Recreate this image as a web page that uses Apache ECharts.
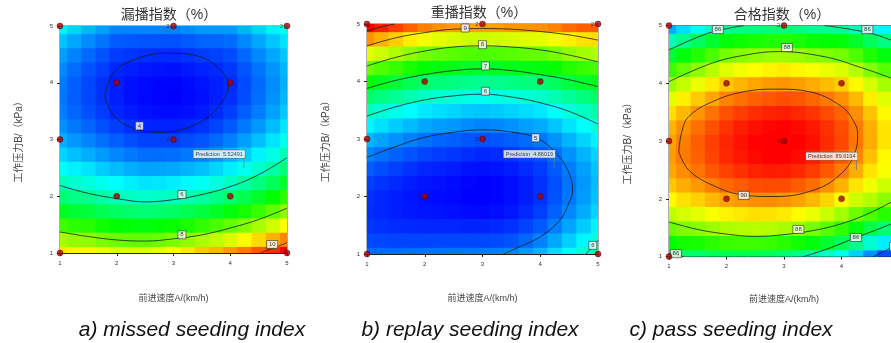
<!DOCTYPE html>
<html>
<head>
<meta charset="utf-8">
<script src="https://cdn.jsdelivr.net/npm/echarts@6/dist/echarts.min.js"></script>
<style>
html, body { margin: 0; padding: 0; background: #fff; }
#chartArea { width: 891px; height: 343px; }
</style>
</head>
<body>
<div id="chartArea"></div>
<script>
// sample positions of the response surface, A (x) and B (y)
var gridX = [1, 1.25, 1.5, 1.75, 2, 2.25, 2.5, 2.75, 3, 3.25, 3.5, 3.75, 4, 4.25, 4.5, 4.75, 5];
var gridY = [1, 1.25, 1.5, 1.75, 2, 2.25, 2.5, 2.75, 3, 3.25, 3.5, 3.75, 4, 4.25, 4.5, 4.75, 5];

// one array per column of A, values from B=1 (bottom) up to B=5 (top)
var missedByColumn = [
    [9.05, 8.27, 7.57, 6.94, 6.38, 5.89, 5.48, 5.14, 4.87, 4.68, 4.55, 4.50, 4.52, 4.62, 4.78, 5.02, 5.34],
    [8.94, 8.16, 7.45, 6.82, 6.25, 5.76, 5.34, 4.99, 4.72, 4.52, 4.39, 4.33, 4.35, 4.44, 4.60, 4.83, 5.14],
    [8.92, 8.12, 7.40, 6.75, 6.17, 5.67, 5.24, 4.88, 4.59, 4.38, 4.24, 4.18, 4.18, 4.26, 4.42, 4.64, 4.94],
    [8.76, 7.97, 7.25, 6.60, 6.03, 5.52, 5.09, 4.74, 4.45, 4.24, 4.10, 4.03, 4.03, 4.11, 4.26, 4.48, 4.77],
    [8.65, 7.86, 7.14, 6.49, 5.91, 5.41, 4.98, 4.61, 4.33, 4.11, 3.96, 3.89, 3.89, 3.96, 4.10, 4.32, 4.60],
    [8.63, 7.82, 7.09, 6.42, 5.84, 5.32, 4.88, 4.52, 4.23, 4.01, 3.87, 3.81, 3.81, 3.90, 4.05, 4.28, 4.59],
    [8.62, 7.80, 7.05, 6.37, 5.77, 5.25, 4.81, 4.44, 4.15, 3.94, 3.80, 3.74, 3.76, 3.85, 4.02, 4.27, 4.60],
    [8.72, 7.87, 7.10, 6.41, 5.80, 5.26, 4.81, 4.43, 4.13, 3.92, 3.77, 3.71, 3.73, 3.83, 4.00, 4.26, 4.59],
    [8.87, 7.99, 7.20, 6.49, 5.86, 5.31, 4.84, 4.45, 4.14, 3.92, 3.77, 3.70, 3.72, 3.81, 3.99, 4.25, 4.58],
    [9.03, 8.13, 7.32, 6.60, 5.95, 5.39, 4.91, 4.51, 4.20, 3.96, 3.81, 3.74, 3.76, 3.86, 4.04, 4.30, 4.64],
    [9.23, 8.31, 7.48, 6.73, 6.07, 5.49, 5.00, 4.59, 4.27, 4.03, 3.87, 3.80, 3.82, 3.92, 4.10, 4.37, 4.73],
    [9.36, 8.46, 7.63, 6.88, 6.22, 5.64, 5.15, 4.73, 4.40, 4.15, 3.99, 3.90, 3.90, 3.98, 4.14, 4.39, 4.72],
    [9.54, 8.63, 7.81, 7.07, 6.40, 5.82, 5.32, 4.90, 4.56, 4.30, 4.12, 4.02, 4.00, 4.07, 4.21, 4.43, 4.74],
    [9.77, 8.86, 8.03, 7.29, 6.62, 6.04, 5.54, 5.11, 4.77, 4.51, 4.33, 4.22, 4.20, 4.26, 4.40, 4.62, 4.92],
    [10.02, 9.11, 8.28, 7.53, 6.87, 6.28, 5.77, 5.35, 5.00, 4.74, 4.55, 4.45, 4.42, 4.48, 4.62, 4.83, 5.13],
    [10.30, 9.39, 8.56, 7.80, 7.13, 6.54, 6.03, 5.60, 5.25, 4.98, 4.79, 4.68, 4.65, 4.70, 4.83, 5.04, 5.33],
    [10.62, 9.71, 8.87, 8.12, 7.44, 6.84, 6.32, 5.89, 5.53, 5.25, 5.05, 4.93, 4.89, 4.93, 5.05, 5.25, 5.53]
];
var replayByColumn = [
    [4.93, 4.74, 4.62, 4.57, 4.59, 4.68, 4.84, 5.08, 5.38, 5.75, 6.19, 6.70, 7.28, 7.93, 8.65, 9.44, 10.30],
    [4.92, 4.71, 4.58, 4.52, 4.52, 4.60, 4.75, 4.97, 5.26, 5.62, 6.05, 6.55, 7.12, 7.76, 8.48, 9.26, 10.12],
    [4.92, 4.70, 4.55, 4.47, 4.47, 4.53, 4.67, 4.87, 5.15, 5.50, 5.92, 6.41, 6.97, 7.61, 8.31, 9.09, 9.94],
    [4.94, 4.70, 4.54, 4.44, 4.42, 4.47, 4.59, 4.79, 5.05, 5.39, 5.79, 6.27, 6.82, 7.45, 8.14, 8.90, 9.74],
    [4.96, 4.70, 4.52, 4.42, 4.38, 4.42, 4.52, 4.70, 4.96, 5.28, 5.67, 6.14, 6.68, 7.29, 7.97, 8.73, 9.56],
    [4.97, 4.71, 4.52, 4.41, 4.36, 4.39, 4.49, 4.66, 4.90, 5.22, 5.61, 6.07, 6.60, 7.21, 7.89, 8.64, 9.46],
    [4.98, 4.71, 4.52, 4.39, 4.34, 4.36, 4.46, 4.62, 4.86, 5.18, 5.56, 6.02, 6.55, 7.15, 7.82, 8.57, 9.39],
    [4.99, 4.71, 4.50, 4.36, 4.30, 4.32, 4.40, 4.57, 4.80, 5.11, 5.49, 5.95, 6.48, 7.08, 7.76, 8.51, 9.33],
    [5.01, 4.71, 4.50, 4.35, 4.29, 4.29, 4.38, 4.53, 4.77, 5.07, 5.46, 5.91, 6.45, 7.05, 7.74, 8.49, 9.33],
    [5.04, 4.74, 4.53, 4.38, 4.32, 4.32, 4.41, 4.56, 4.80, 5.10, 5.49, 5.94, 6.48, 7.08, 7.77, 8.52, 9.36],
    [5.09, 4.79, 4.58, 4.43, 4.37, 4.37, 4.46, 4.61, 4.85, 5.15, 5.54, 5.99, 6.53, 7.13, 7.82, 8.57, 9.41],
    [5.21, 4.91, 4.69, 4.54, 4.47, 4.47, 4.55, 4.70, 4.93, 5.23, 5.60, 6.05, 6.58, 7.18, 7.86, 8.61, 9.44],
    [5.36, 5.06, 4.82, 4.67, 4.58, 4.58, 4.64, 4.79, 5.00, 5.30, 5.66, 6.11, 6.62, 7.22, 7.88, 8.63, 9.44],
    [5.60, 5.28, 5.04, 4.87, 4.78, 4.76, 4.82, 4.96, 5.16, 5.45, 5.81, 6.24, 6.75, 7.33, 7.99, 8.72, 9.53],
    [5.84, 5.52, 5.27, 5.10, 5.00, 4.98, 5.03, 5.16, 5.36, 5.64, 5.99, 6.42, 6.92, 7.50, 8.15, 8.88, 9.68],
    [6.07, 5.75, 5.50, 5.32, 5.22, 5.19, 5.24, 5.36, 5.55, 5.82, 6.16, 6.57, 7.06, 7.62, 8.26, 8.97, 9.75],
    [6.31, 5.99, 5.73, 5.55, 5.45, 5.41, 5.45, 5.55, 5.73, 5.99, 6.31, 6.70, 7.17, 7.71, 8.32, 9.00, 9.76]
];
var passByColumn = [
    [86.02, 86.99, 87.81, 88.49, 89.03, 89.43, 89.68, 89.78, 89.75, 89.57, 89.26, 88.80, 88.20, 87.45, 86.57, 85.54, 84.36],
    [86.14, 87.13, 87.97, 88.66, 89.23, 89.64, 89.91, 90.04, 90.02, 89.86, 89.56, 89.12, 88.53, 87.80, 86.92, 85.91, 84.74],
    [86.16, 87.18, 88.05, 88.78, 89.36, 89.80, 90.09, 90.25, 90.26, 90.12, 89.84, 89.41, 88.85, 88.13, 87.27, 86.27, 85.12],
    [86.30, 87.33, 88.21, 88.96, 89.55, 90.01, 90.32, 90.47, 90.50, 90.37, 90.11, 89.70, 89.15, 88.44, 87.60, 86.62, 85.49],
    [86.39, 87.44, 88.34, 89.09, 89.71, 90.17, 90.50, 90.69, 90.71, 90.61, 90.37, 89.97, 89.43, 88.75, 87.93, 86.95, 85.84],
    [86.40, 87.47, 88.39, 89.17, 89.80, 90.29, 90.63, 90.82, 90.87, 90.77, 90.52, 90.12, 89.59, 88.89, 88.06, 87.08, 85.95],
    [86.40, 87.49, 88.43, 89.24, 89.89, 90.39, 90.73, 90.94, 90.99, 90.88, 90.64, 90.24, 89.69, 89.00, 88.16, 87.16, 86.01],
    [86.29, 87.42, 88.40, 89.23, 89.90, 90.42, 90.79, 91.00, 91.07, 90.97, 90.74, 90.34, 89.79, 89.09, 88.24, 87.23, 86.08],
    [86.12, 87.30, 88.30, 89.16, 89.85, 90.40, 90.78, 91.02, 91.09, 91.01, 90.77, 90.39, 89.83, 89.14, 88.27, 87.26, 86.09],
    [85.93, 87.13, 88.15, 89.02, 89.73, 90.29, 90.68, 90.93, 91.00, 90.94, 90.70, 90.32, 89.76, 89.06, 88.19, 87.18, 86.00],
    [85.68, 86.90, 87.94, 88.84, 89.56, 90.14, 90.54, 90.80, 90.88, 90.82, 90.59, 90.21, 89.65, 88.95, 88.08, 87.06, 85.86],
    [85.43, 86.63, 87.68, 88.58, 89.31, 89.89, 90.30, 90.57, 90.67, 90.62, 90.41, 90.05, 89.52, 88.84, 88.00, 87.00, 85.84],
    [85.10, 86.31, 87.37, 88.26, 89.02, 89.60, 90.04, 90.31, 90.44, 90.40, 90.22, 89.87, 89.38, 88.71, 87.91, 86.94, 85.82],
    [84.63, 85.86, 86.93, 87.84, 88.60, 89.20, 89.64, 89.93, 90.07, 90.04, 89.86, 89.54, 89.05, 88.41, 87.61, 86.66, 85.55],
    [84.14, 85.37, 86.45, 87.60, 88.40, 88.90, 89.20, 89.49, 89.64, 89.62, 89.46, 89.13, 88.66, 88.02, 87.23, 86.29, 85.19],
    [83.63, 84.86, 86.10, 87.30, 88.10, 88.60, 88.95, 89.04, 89.20, 89.20, 89.05, 88.75, 88.29, 87.68, 86.91, 85.99, 84.92],
    [83.07, 84.30, 85.60, 86.90, 87.80, 88.30, 88.60, 88.80, 88.74, 88.76, 88.64, 88.37, 87.94, 87.36, 86.63, 85.75, 84.71]
];

// contour lines
var missed4 = [[1.79,3.76],[1.94,4.17],[2.29,4.40],[2.88,4.52],[3.47,4.46],[3.85,4.20],[3.97,3.93],[3.88,3.70],[3.59,3.38],[3.12,3.17],[2.71,3.13],[2.29,3.20],[1.94,3.43],[1.79,3.76]];
var missed6 = [[1,2.19],[1.5,2.05],[2,1.96],[2.5,1.90],[3,1.94],[3.5,2.03],[4,2.17],[4.5,2.38],[5,2.68]];
var missed8 = [[1,1.37],[1.5,1.29],[2,1.23],[2.5,1.21],[3,1.25],[3.5,1.32],[4,1.44],[4.5,1.59],[5,1.79]];
var missed10 = [[4.53,1.0],[5,1.18]];
var missedLabels = [[2.4,3.24,'4'],[3.15,2.03,'6'],[3.15,1.32,'8'],[4.74,1.15,'10']];

var replay10 = [[1,4.88],[1.25,4.95],[1.48,5.0]];
var replay9 = [[1,4.62],[1.5,4.76],[2,4.85],[2.5,4.91],[3,4.92],[3.5,4.91],[4,4.87],[4.5,4.81],[5,4.72]];
var replay8 = [[1,4.27],[1.5,4.42],[2,4.53],[2.5,4.60],[3,4.62],[3.5,4.60],[4,4.55],[4.5,4.46],[5,4.34]];
var replay7 = [[1,3.88],[1.5,4.02],[2,4.12],[2.5,4.19],[3,4.22],[3.5,4.19],[4,4.12],[4.5,4.03],[5,3.91]];
var replay6 = [[1,3.40],[1.5,3.56],[2,3.68],[2.5,3.75],[3,3.78],[3.5,3.73],[4,3.63],[4.5,3.48],[5,3.26]];
var replay6b = [[4.79,1.0],[5,1.24]];
var replay5 = [[1,2.68],[1.5,2.87],[2,3.03],[2.6,3.13],[3,3.16],[3.5,3.12],[3.93,3.02],[4.28,2.75],[4.5,2.4],[4.56,2.1],[4.5,1.9],[4.34,1.59],[4.0,1.30],[3.65,1.13],[3.36,1.0]];
var replayLabels = [[2.7,4.93,'9'],[3.0,4.64,'8'],[3.05,4.27,'7'],[3.05,3.83,'6'],[3.92,3.02,'5'],[4.91,1.15,'6']];

var pass90 = [[1.17,2.82],[1.22,3.15],[1.34,3.42],[1.75,3.68],[2.33,3.86],[2.9,3.90],[3.42,3.86],[4.0,3.6],[4.23,3.31],[4.28,3.11],[4.23,2.79],[4.0,2.44],[3.54,2.16],[2.84,2.04],[2.27,2.07],[1.75,2.24],[1.34,2.5],[1.17,2.82]];
var pass88a = [[1,4.03],[1.75,4.35],[2.33,4.49],[2.9,4.55],[3.71,4.46],[4.29,4.29],[4.86,4.09],[5,4.02]];
var pass88b = [[1,1.60],[1.5,1.47],[2,1.39],[2.5,1.35],[3,1.38],[3.5,1.45],[4,1.57],[4.5,1.76],[5,2.02]];
var pass86a = [[1,4.58],[1.5,4.80],[1.83,4.91],[2.3,5.0]];
var pass86b = [[3.71,5.0],[4.45,4.88],[4.86,4.75],[5,4.68]];
var pass86c = [[3.34,1.0],[3.8,1.15],[4.25,1.33],[4.6,1.46],[5,1.62]];
var pass86d = [[1,1.06],[1.25,1.0]];
var pass84 = [[4.55,1.0],[4.8,1.12],[5,1.25]];
var passLabels = [[1.85,4.93,'86'],[3.05,4.62,'88'],[4.45,4.93,'86'],[2.3,2.06,'90'],[3.25,1.47,'88'],[4.25,1.33,'86'],[4.93,1.18,'84'],[1.12,1.05,'86']];

// design points and replicated points
var designPoints = [[1,1],[1,3],[1,5],[2,2],[2,4],[3,3],[3,5],[4,2],[4,4],[5,1],[5,5]];
var replicatePoints = [[3,3],[3,5],[5,5]];

var predictionPoints = [[4.24,2.5],[4.24,2.5],[4.26,2.5]];
var predictionStems = [[[4.24,2.5],[4.24,2.69]], [[4.24,2.5],[4.24,2.69]], [[4.26,2.5],[4.26,2.69]]];
var predictionTexts = ['Prediction  5.52491', 'Prediction  4.86019', 'Prediction  89.6194'];

var titles = ['漏播指数（%）', '重播指数（%）', '合格指数（%）'];
var captions = ['a) missed seeding index', 'b) replay seeding index', 'c) pass seeding index'];
var xName = '前进速度A/(km/h)';
var yName = '工作压力B/（kPa）';

var jet = ['#0000ff', '#00ffff', '#00ff00', '#ffff00', '#ff0000'];
var fontFamily = '"Liberation Sans", "Noto Sans CJK SC", sans-serif';

var panels = [
    { values: missedByColumn, range: [3.7, 10.6], contours: [missed4, missed6, missed8, missed10], labels: missedLabels,
      box: [60, 26, 227, 227], xGap: 41, titleX: 169, titleY: 15, captionX: 192 },
    { values: replayByColumn, range: [4.3, 10.3], contours: [replay10, replay9, replay8, replay7, replay6, replay6b, replay5], labels: replayLabels,
      box: [367, 24, 231, 230], xGap: 40, titleX: 479, titleY: 13, captionX: 470 },
    { values: passByColumn, range: [83, 91], contours: [pass90, pass88a, pass88b, pass86a, pass86b, pass86c, pass86d, pass84], labels: passLabels,
      box: [669, 25.6, 230, 231], xGap: 38, titleX: 782, titleY: 15, captionX: 731 }
];

function heatData(columns) {
    var out = [];
    columns.forEach(function(col, i) {
        col.forEach(function(v, j) {
            out.push([gridX[i], gridY[j], v]);
        });
    });
    return out;
}

function renderCell(params, api) {
    var x = api.value(0), y = api.value(1);
    var p0 = api.coord([x - 0.125, y + 0.125]);
    var p1 = api.coord([x + 0.125, y - 0.125]);
    var rect = echarts.graphic.clipRectByRect({
        x: p0[0], y: p0[1], width: p1[0] - p0[0] + 1, height: p1[1] - p0[1] + 1
    }, params.coordSys);
    return rect && { type: 'rect', shape: rect, style: { fill: api.visual('color') } };
}

var myChart = echarts.init(document.getElementById('chartArea'), null, { renderer: 'canvas' });

var option = {
    animation: false,
    backgroundColor: '#fff',
    textStyle: { fontFamily: fontFamily },
    grid: [], xAxis: [], yAxis: [], series: [], visualMap: [], graphic: []
};

panels.forEach(function(p, k) {
    option.grid.push({
        left: p.box[0], top: p.box[1], width: p.box[2], height: p.box[3],
        show: true, borderColor: '#333', borderWidth: 0.8, backgroundColor: 'transparent',
        containLabel: false, outerBoundsMode: 'none'
    });
    var axisCommon = {
        gridIndex: k, type: 'value', min: 1, max: 5, interval: 1,
        nameLocation: 'middle',
        nameTextStyle: { fontSize: 9, color: '#444', fontFamily: fontFamily },
        axisLine: { show: true, onZero: false, lineStyle: { color: '#222', width: 1 } },
        axisTick: { show: true, length: 3, lineStyle: { color: '#222' } },
        axisLabel: { fontSize: 6, color: '#333', margin: 7 },
        splitLine: { show: false }
    };
    option.xAxis.push(Object.assign({}, axisCommon, { name: xName, nameGap: p.xGap }));
    option.yAxis.push(Object.assign({}, axisCommon, {
        name: yName, nameGap: 36, nameRotate: 90,
        nameTextStyle: { fontSize: 10, color: '#444', fontFamily: fontFamily }
    }));

    option.visualMap.push({
        type: 'continuous', show: false, dimension: 2,
        seriesIndex: option.series.length,
        min: p.range[0], max: p.range[1],
        inRange: { color: jet }
    });
    option.series.push({
        type: 'custom', xAxisIndex: k, yAxisIndex: k, silent: true, z: 1,
        renderItem: renderCell, encode: { x: 0, y: 1 },
        data: heatData(p.values)
    });

    p.contours.forEach(function(line) {
        option.series.push({
            type: 'line', xAxisIndex: k, yAxisIndex: k, silent: true, z: 3,
            data: line, showSymbol: false, smooth: 0.4,
            lineStyle: { color: '#1a1a1a', width: 0.8 }
        });
    });

    option.series.push({
        type: 'scatter', xAxisIndex: k, yAxisIndex: k, silent: true, z: 4,
        data: p.labels, symbol: 'rect',
        symbolSize: function(v) { return [String(v[2]).length > 1 ? 11 : 8, 8]; },
        itemStyle: { color: '#fff', borderColor: '#333', borderWidth: 0.8 },
        label: { show: true, position: 'inside', fontSize: 6, color: '#000',
                 formatter: function(d) { return d.value[2]; } }
    });

    option.series.push({
        type: 'scatter', xAxisIndex: k, yAxisIndex: k, silent: true, z: 5,
        data: designPoints, symbolSize: 6,
        itemStyle: { color: '#a80000', borderColor: '#400', borderWidth: 0.5 }
    });
    option.series.push({
        type: 'scatter', xAxisIndex: k, yAxisIndex: k, silent: true, z: 5,
        data: replicatePoints, symbolSize: 6, itemStyle: { color: 'rgba(0,0,0,0)' },
        label: { show: true, position: 'left', distance: 1, fontSize: 6, color: '#222', formatter: '2' }
    });

    option.series.push({
        type: 'line', xAxisIndex: k, yAxisIndex: k, silent: true, z: 6,
        data: predictionStems[k], showSymbol: false,
        lineStyle: { color: '#777', width: 0.8 }
    });
    option.series.push({
        type: 'scatter', xAxisIndex: k, yAxisIndex: k, silent: true, z: 6,
        data: [predictionPoints[k]], symbolSize: 2, itemStyle: { color: 'rgba(0,0,0,0)' },
        label: {
            show: true, formatter: predictionTexts[k], position: [2, -9],
            align: 'right', verticalAlign: 'bottom',
            fontSize: 5.5, color: '#111', backgroundColor: '#fff',
            borderColor: '#666', borderWidth: 0.6, padding: [1, 2]
        }
    });

    option.graphic.push({
        type: 'text', x: p.titleX, y: p.titleY, silent: true,
        style: { text: titles[k], align: 'center', verticalAlign: 'middle',
                 fontSize: 14, fill: '#333', fontFamily: fontFamily }
    });
    option.graphic.push({
        type: 'text', x: p.captionX, y: 330, silent: true,
        style: { text: captions[k], align: 'center', verticalAlign: 'middle',
                 fontSize: 21, fontStyle: 'italic', fill: '#111', fontFamily: fontFamily }
    });
});

myChart.setOption(option);
</script>
</body>
</html>
